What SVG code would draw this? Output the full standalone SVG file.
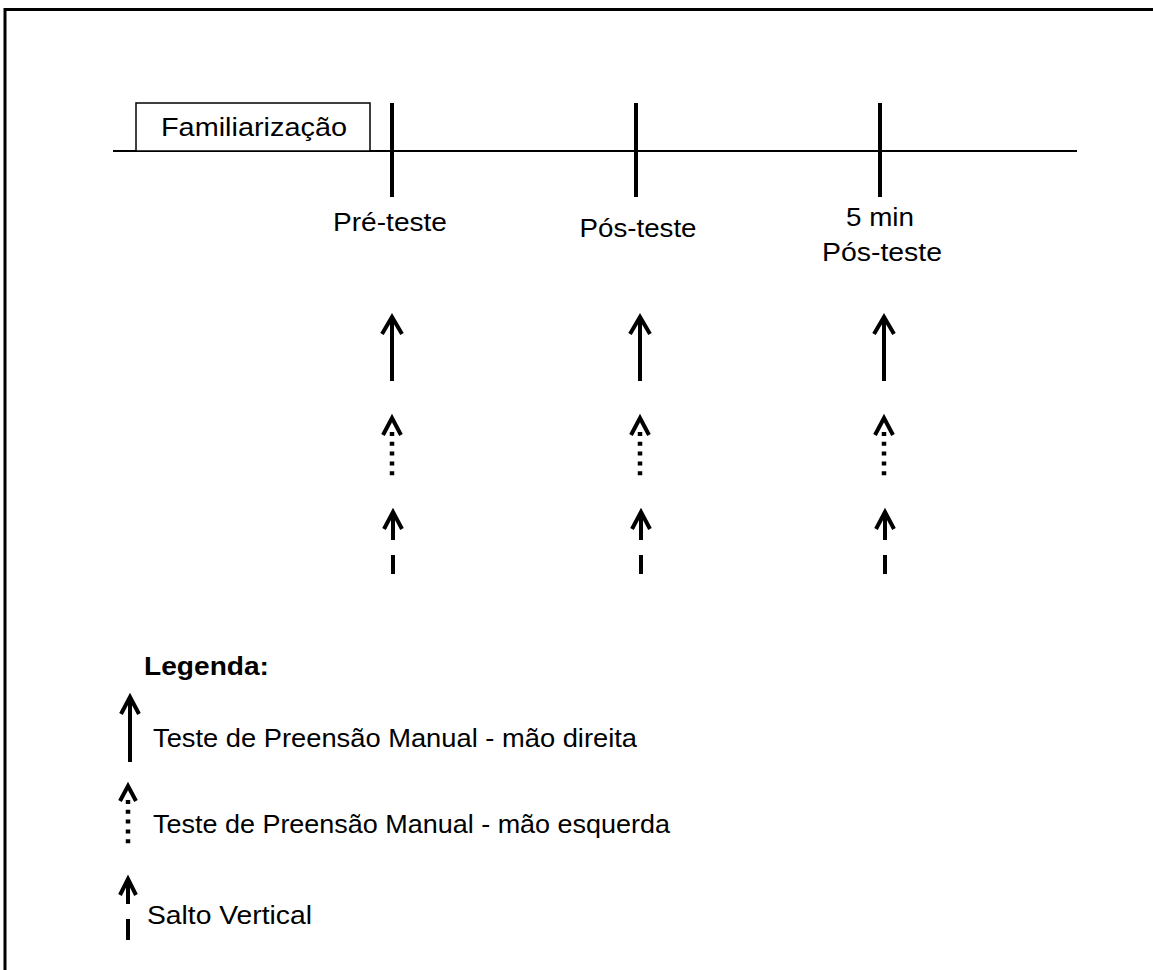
<svg xmlns="http://www.w3.org/2000/svg" width="1153" height="970" viewBox="0 0 1153 970">
<style>
text{font-family:"Liberation Sans",Arial,sans-serif;fill:#000;font-size:26px}
.lab{text-anchor:middle}
.ln{stroke:#000;fill:none}
.solid{stroke:#000;stroke-width:4;fill:none}
.dot{stroke:#000;stroke-width:4.5;fill:none;stroke-dasharray:4 5.8}
.head{stroke:#000;stroke-width:4;fill:none;stroke-linecap:butt;stroke-linejoin:miter}
</style>
<rect x="0" y="0" width="1153" height="970" fill="#fff"/>
<path d="M5,970 V9.5 H1153" class="ln" stroke-width="3"/>
<g id="timeline">
<line x1="113" y1="151" x2="1077" y2="151" class="ln" stroke-width="2"/>
</g>
<g id="familiarizacao">
<rect x="136" y="103" width="234" height="48" fill="#fff" stroke="#000" stroke-width="1.5"/>
<text x="254" y="136" class="lab" textLength="186" lengthAdjust="spacingAndGlyphs">Familiarização</text>
</g>
<g id="pre-teste">
<line x1="392" y1="103" x2="392" y2="197" class="ln" stroke-width="4"/>
<text x="390" y="231" class="lab" textLength="114" lengthAdjust="spacingAndGlyphs">Pré-teste</text>
</g>
<g id="pos-teste">
<line x1="636" y1="103" x2="636" y2="197" class="ln" stroke-width="4"/>
<text x="638" y="237" class="lab" textLength="117" lengthAdjust="spacingAndGlyphs">Pós-teste</text>
</g>
<g id="pos-teste-5min">
<line x1="880" y1="103" x2="880" y2="197" class="ln" stroke-width="4"/>
<text x="880" y="226" class="lab" textLength="68" lengthAdjust="spacingAndGlyphs">5 min</text>
<text x="882" y="261" class="lab" textLength="120" lengthAdjust="spacingAndGlyphs">Pós-teste</text>
</g>
<g id="connectors">
<g id="arrows-pre">
<line x1="392" y1="318" x2="392" y2="381" class="solid"/>
<path d="M382,334 L392,317 L402,334" class="head"/>
<line x1="392" y1="432" x2="392" y2="476" class="dot"/>
<path d="M383,435 L392,418 L401,435" class="head"/>
<line x1="393" y1="512" x2="393" y2="540" class="solid"/>
<path d="M384,529 L393,512 L402,529" class="head"/>
<line x1="393" y1="555" x2="393" y2="574" class="solid"/>
</g>
<g id="arrows-pos">
<line x1="640" y1="318" x2="640" y2="381" class="solid"/>
<path d="M630,334 L640,317 L650,334" class="head"/>
<line x1="640" y1="432" x2="640" y2="476" class="dot"/>
<path d="M631,435 L640,418 L649,435" class="head"/>
<line x1="641" y1="512" x2="641" y2="540" class="solid"/>
<path d="M632,529 L641,512 L650,529" class="head"/>
<line x1="641" y1="555" x2="641" y2="574" class="solid"/>
</g>
<g id="arrows-5min">
<line x1="884" y1="318" x2="884" y2="381" class="solid"/>
<path d="M874,334 L884,317 L894,334" class="head"/>
<line x1="884" y1="432" x2="884" y2="476" class="dot"/>
<path d="M875,435 L884,418 L893,435" class="head"/>
<line x1="885" y1="512" x2="885" y2="540" class="solid"/>
<path d="M876,529 L885,512 L894,529" class="head"/>
<line x1="885" y1="555" x2="885" y2="574" class="solid"/>
</g>
</g>
<g id="legend">
<text x="144" y="675" font-weight="bold" font-size="25" textLength="125" lengthAdjust="spacingAndGlyphs">Legenda:</text>
<line x1="130" y1="698" x2="130" y2="762" class="solid"/>
<path d="M121,714 L130,697 L139,714" class="head"/>
<text x="153" y="747" textLength="484" lengthAdjust="spacingAndGlyphs">Teste de Preensão Manual - mão direita</text>
<line x1="128" y1="800" x2="128" y2="844" class="dot"/>
<path d="M120,801 L128,786 L136,801" class="head"/>
<text x="153" y="833" textLength="517" lengthAdjust="spacingAndGlyphs">Teste de Preensão Manual - mão esquerda</text>
<line x1="128" y1="880" x2="128" y2="904" class="solid"/>
<path d="M120,895 L128,879 L136,895" class="head"/>
<line x1="128" y1="919" x2="128" y2="940" class="solid"/>
<text x="147" y="924" textLength="165" lengthAdjust="spacingAndGlyphs">Salto Vertical</text>
</g>
</svg>
